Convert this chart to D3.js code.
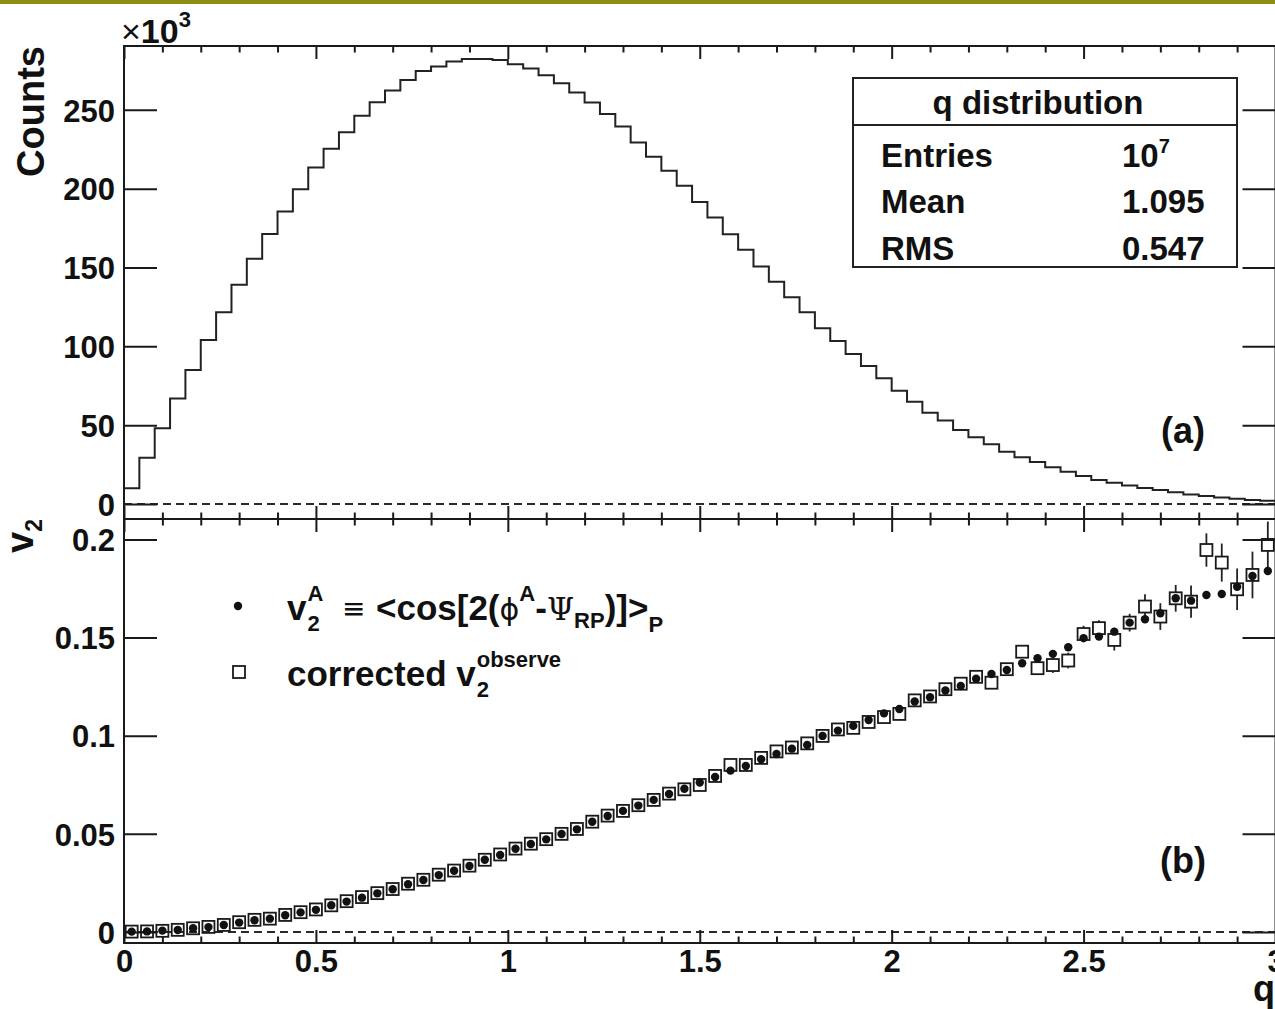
<!DOCTYPE html>
<html>
<head>
<meta charset="utf-8">
<script src="https://cdn.jsdelivr.net/npm/d3@7"></script>
<style>
  html, body { margin: 0; padding: 0; background: #fff; overflow: hidden; }
  svg { display: block; }
  text { font-family: "Liberation Sans", Arial, Helvetica, sans-serif; fill: #111; }
</style>
</head>
<body>
<svg id="chart" width="1275" height="1009"></svg>
<script>
// q bins: 75 bins of width 0.04 between 0 and 3
const qBinCenters = [
  0.02, 0.06, 0.10, 0.14, 0.18, 0.22, 0.26, 0.30, 0.34, 0.38,
  0.42, 0.46, 0.50, 0.54, 0.58, 0.62, 0.66, 0.70, 0.74, 0.78,
  0.82, 0.86, 0.90, 0.94, 0.98, 1.02, 1.06, 1.10, 1.14, 1.18,
  1.22, 1.26, 1.30, 1.34, 1.38, 1.42, 1.46, 1.50, 1.54, 1.58,
  1.62, 1.66, 1.70, 1.74, 1.78, 1.82, 1.86, 1.90, 1.94, 1.98,
  2.02, 2.06, 2.10, 2.14, 2.18, 2.22, 2.26, 2.30, 2.34, 2.38,
  2.42, 2.46, 2.50, 2.54, 2.58, 2.62, 2.66, 2.70, 2.74, 2.78,
  2.82, 2.86, 2.90, 2.94, 2.98
];
const binHalfWidth = 0.02;

// (a) q distribution, counts per bin in units of 10^3
const countsK = [
  10.0, 29.4, 48.0, 67.0, 85.0, 104.1, 121.6, 139.0, 155.5, 171.3,
  185.5, 199.7, 213.4, 225.3, 235.8, 246.2, 254.9, 262.3, 269.0, 274.7,
  277.5, 280.6, 282.3, 282.3, 281.6, 279.0, 276.2, 272.0, 266.9, 261.0,
  254.6, 247.3, 239.4, 229.3, 220.2, 211.3, 201.8, 191.6, 181.7, 171.1,
  161.2, 150.6, 141.0, 131.1, 121.6, 111.5, 103.4, 95.2, 87.6, 79.7,
  71.9, 64.9, 57.9, 52.9, 47.0, 42.3, 37.9, 33.2, 29.6, 26.6,
  23.3, 20.5, 17.8, 15.2, 13.5, 11.8, 10.1, 8.9, 7.4, 6.1,
  5.1, 4.2, 3.4, 2.5, 2.1
];

// (b) v2^A = <cos[2(phi^A - Psi_RP)]>_P
const v2A = [
  0.0002, 0.0003, 0.0007, 0.0010, 0.0019, 0.0025, 0.0036, 0.0048, 0.0060, 0.0068,
  0.0085, 0.0100, 0.0113, 0.0136, 0.0155, 0.0175, 0.0197, 0.0218, 0.0243, 0.0265,
  0.0290, 0.0312, 0.0336, 0.0368, 0.0392, 0.0424, 0.0448, 0.0472, 0.0499, 0.0523,
  0.0562, 0.0591, 0.0617, 0.0644, 0.0673, 0.0703, 0.0730, 0.0762, 0.0790, 0.0822,
  0.0846, 0.0880, 0.0907, 0.0934, 0.0953, 0.0999, 0.1026, 0.1050, 0.1080, 0.1114,
  0.1136, 0.1174, 0.1196, 0.1230, 0.1253, 0.1290, 0.1314, 0.1335, 0.1369, 0.1395,
  0.1417, 0.1451, 0.1497, 0.1505, 0.1530, 0.1576, 0.1593, 0.1624, 0.1700, 0.1688,
  0.1717, 0.1722, 0.1759, 0.1814, 0.1839
];

// (b) corrected v2^observe and its statistical error
const v2Corrected = [
  0.0002, 0.0003, 0.0006, 0.0011, 0.0019, 0.0026, 0.0036, 0.0050, 0.0062, 0.0068,
  0.0087, 0.0101, 0.0115, 0.0136, 0.0157, 0.0178, 0.0198, 0.0219, 0.0246, 0.0266,
  0.0292, 0.0313, 0.0338, 0.0368, 0.0395, 0.0425, 0.0450, 0.0473, 0.0500, 0.0525,
  0.0562, 0.0593, 0.0617, 0.0646, 0.0673, 0.0705, 0.0727, 0.0749, 0.0795, 0.0851,
  0.0851, 0.0887, 0.0920, 0.0940, 0.0961, 0.0999, 0.1032, 0.1040, 0.1070, 0.1095,
  0.1111, 0.1180, 0.1200, 0.1237, 0.1265, 0.1300, 0.1270, 0.1339, 0.1428, 0.1344,
  0.1360, 0.1383, 0.1518, 0.1548, 0.1488, 0.1576, 0.1658, 0.1607, 0.1700, 0.1683,
  0.1946, 0.1882, 0.1746, 0.1819, 0.1972
];
const v2CorrectedErr = [
  0.0001, 0.0001, 0.0001, 0.0001, 0.0001, 0.0001, 0.0001, 0.0001, 0.0001, 0.0001,
  0.0001, 0.0001, 0.0001, 0.0001, 0.0002, 0.0002, 0.0002, 0.0002, 0.0002, 0.0002,
  0.0002, 0.0002, 0.0003, 0.0003, 0.0003, 0.0003, 0.0003, 0.0003, 0.0004, 0.0004,
  0.0004, 0.0004, 0.0005, 0.0005, 0.0005, 0.0006, 0.0006, 0.0006, 0.0007, 0.0007,
  0.0008, 0.0008, 0.0009, 0.0009, 0.0010, 0.0011, 0.0011, 0.0012, 0.0013, 0.0014,
  0.0015, 0.0016, 0.0017, 0.0018, 0.0019, 0.0021, 0.0023, 0.0025, 0.0030, 0.0030,
  0.0040, 0.0040, 0.0042, 0.0040, 0.0054, 0.0045, 0.0063, 0.0068, 0.0068, 0.0082,
  0.0085, 0.0097, 0.0106, 0.0119, 0.0119
];

const countTicks = [0, 50, 100, 150, 200, 250];
const v2Ticks = [0, 0.05, 0.1, 0.15, 0.2];
const v2TickLabels = ["0", "0.05", "0.1", "0.15", "0.2"];
const qMajorTicks = [0, 0.5, 1, 1.5, 2, 2.5, 3];
const qMinorTicks = [0.1, 0.2, 0.3, 0.4, 0.6, 0.7, 0.8, 0.9, 1.1, 1.2, 1.3, 1.4,
                     1.6, 1.7, 1.8, 1.9, 2.1, 2.2, 2.3, 2.4, 2.6, 2.7, 2.8, 2.9];
const statsTitle = "q distribution";
const statsNames = ["Entries", "Mean", "RMS"];
const statsValues = ["10", "1.095", "0.547"];
const statsExponents = ["7", "", ""];

// ---------------------------------------------------------------
const svg = d3.select("#chart");
const INK = "#1a1a1a";
const FONT = '"Liberation Sans", Arial, Helvetica, sans-serif';

svg.append("rect").attr("width", 1275).attr("height", 1009).attr("fill", "#fff");
svg.append("rect").attr("x", 0).attr("y", 0).attr("width", 1275).attr("height", 4).attr("fill", "#8f8c12");

const xLeft = 124, xRight = 1275.5;
const topY0 = 46, midY = 519, botY1 = 943;

const x = d3.scaleLinear().domain([0, 3]).range([xLeft, xRight]);
const yCounts = d3.scaleLinear().domain([-9.5, 290.5]).range([midY, topY0]);
const yV2 = d3.scaleLinear().domain([-0.0056, 0.2104]).range([botY1, midY]);

// ---------- dashed zero lines ----------
function zeroLine(yPos) {
  svg.append("line")
    .attr("x1", xLeft).attr("x2", xRight).attr("y1", yPos).attr("y2", yPos)
    .attr("stroke", "#2a2a2a").attr("stroke-width", 1.8).attr("stroke-dasharray", "8,5");
}
zeroLine(yCounts(0));
zeroLine(yV2(0));

// ---------- (a) histogram outline ----------
const stepPts = [[0, 0]];
qBinCenters.forEach((c, i) => {
  stepPts.push([c - binHalfWidth, countsK[i]]);
  stepPts.push([c + binHalfWidth, countsK[i]]);
});
const stepLine = d3.line().x(d => x(d[0])).y(d => yCounts(d[1]));
svg.append("path").attr("d", stepLine(stepPts))
  .attr("fill", "none").attr("stroke", "#222").attr("stroke-width", 2);

// ---------- frames and ticks ----------
function panelAxes(yScale, yTickVals, yTop, yBottom) {
  const g = svg.append("g");
  // y ticks on both sides, pointing inward
  g.append("g").attr("transform", `translate(${xLeft},0)`)
    .call(d3.axisRight(yScale).tickValues(yTickVals).tickSize(33).tickFormat(""));
  g.append("g").attr("transform", `translate(${xRight},0)`)
    .call(d3.axisLeft(yScale).tickValues(yTickVals).tickSize(33).tickFormat(""));
  // x ticks on top edge (down) and bottom edge (up)
  [[yTop, d3.axisBottom], [yBottom, d3.axisTop]].forEach(([yy, ax]) => {
    g.append("g").attr("transform", `translate(0,${yy})`)
      .call(ax(x).tickValues(qMinorTicks).tickSize(6.5).tickFormat(""));
    g.append("g").attr("transform", `translate(0,${yy})`)
      .call(ax(x).tickValues(qMajorTicks).tickSize(13).tickFormat(""));
  });
  g.selectAll(".domain").remove();
  g.selectAll(".tick line").attr("stroke", INK).attr("stroke-width", 2);
  g.append("rect").attr("x", xLeft).attr("y", yTop)
    .attr("width", xRight - xLeft).attr("height", yBottom - yTop)
    .attr("fill", "none").attr("stroke", INK).attr("stroke-width", 2);
}
panelAxes(yCounts, countTicks, topY0, midY);
panelAxes(yV2, v2Ticks, midY, botY1);

// ---------- tick labels ----------
const labelStyle = sel => sel.style("font-family", FONT).style("font-weight", "bold")
  .style("font-size", "31px").attr("fill", "#111");

const yLabA = svg.append("g").attr("transform", `translate(${xLeft},0)`)
  .call(d3.axisLeft(yCounts).tickValues(countTicks).tickSize(0).tickPadding(9)
    .tickFormat(d3.format("d")));
const yLabB = svg.append("g").attr("transform", `translate(${xLeft},0)`)
  .call(d3.axisLeft(yV2).tickValues(v2Ticks).tickSize(0).tickPadding(9)
    .tickFormat((d, i) => v2TickLabels[i]));
const xLab = svg.append("g").attr("transform", `translate(0,${botY1})`)
  .call(d3.axisBottom(x).tickValues(qMajorTicks).tickSize(0).tickPadding(7)
    .tickFormat(d3.format("~g")));
[yLabA, yLabB, xLab].forEach(g => {
  g.select(".domain").remove();
  labelStyle(g.selectAll("text"));
});
yLabA.selectAll("text").attr("dy", "0.36em");
yLabB.selectAll("text").attr("dy", "0.36em");

// x10^3 multiplier
const mult = svg.append("text").attr("x", 121).attr("y", 43)
  .style("font-size", "34px");
mult.append("tspan").text("\u00d7").style("font-weight", "normal");
mult.append("tspan").text("10").style("font-weight", "bold");
mult.append("tspan").attr("y", 27).text("3").style("font-weight", "bold").style("font-size", "22px");

// axis titles
svg.append("text").attr("transform", "translate(44,46) rotate(-90)")
  .attr("text-anchor", "end").style("font-weight", "bold").style("font-size", "38px")
  .text("Counts");
const v2Title = svg.append("text").attr("transform", `translate(33,${midY}) rotate(-90)`)
  .attr("text-anchor", "end").style("font-weight", "bold").style("font-size", "38px");
v2Title.append("tspan").text("v");
v2Title.append("tspan").attr("dy", 9).style("font-size", "23px").text("2");
svg.append("text").attr("x", 1275).attr("y", 1001).attr("text-anchor", "end")
  .style("font-weight", "bold").style("font-size", "36px").text("q");

// panel tags
svg.append("text").attr("x", 1183).attr("y", 443).attr("text-anchor", "middle")
  .style("font-weight", "bold").style("font-size", "36px").text("(a)");
svg.append("text").attr("x", 1183).attr("y", 873).attr("text-anchor", "middle")
  .style("font-weight", "bold").style("font-size", "36px").text("(b)");

// ---------- statistics box ----------
const box = { x: 853, y: 78, w: 384, h: 189, split: 125 };
svg.append("rect").attr("x", box.x).attr("y", box.y).attr("width", box.w).attr("height", box.h)
  .attr("fill", "#fff").attr("stroke", "#222").attr("stroke-width", 2);
svg.append("line").attr("x1", box.x).attr("x2", box.x + box.w)
  .attr("y1", box.split).attr("y2", box.split).attr("stroke", "#222").attr("stroke-width", 2);
svg.append("text").attr("x", 1038).attr("y", 114).attr("text-anchor", "middle")
  .style("font-weight", "bold").style("font-size", "33px").text(statsTitle);
const rowBase = [167, 213, 260];
statsNames.forEach((name, i) => {
  svg.append("text").attr("x", 881).attr("y", rowBase[i])
    .style("font-weight", "bold").style("font-size", "33px").text(name);
  const t = svg.append("text").attr("x", 1122).attr("y", rowBase[i])
    .style("font-weight", "bold").style("font-size", "33px");
  t.append("tspan").text(statsValues[i]);
  if (statsExponents[i]) {
    t.append("tspan").attr("y", rowBase[i] - 14).style("font-size", "20px").text(statsExponents[i]);
  }
});

// ---------- (b) markers ----------
const sq = 12, hs = sq / 2;
const gB = svg.append("g");
// error bars of corrected v2 drawn outside the open squares
qBinCenters.forEach((q, i) => {
  const cx = x(q), cy = yV2(v2Corrected[i]);
  const up = yV2(v2Corrected[i] + v2CorrectedErr[i]);
  const dn = yV2(v2Corrected[i] - v2CorrectedErr[i]);
  if (cy - up > hs) {
    gB.append("line").attr("x1", cx).attr("x2", cx).attr("y1", up).attr("y2", cy - hs)
      .attr("stroke", "#222").attr("stroke-width", 1.8);
    gB.append("line").attr("x1", cx).attr("x2", cx).attr("y1", cy + hs).attr("y2", dn)
      .attr("stroke", "#222").attr("stroke-width", 1.8);
  }
});
gB.selectAll("rect.corr").data(qBinCenters).join("rect").attr("class", "corr")
  .attr("x", d => x(d) - hs).attr("y", (d, i) => yV2(v2Corrected[i]) - hs)
  .attr("width", sq).attr("height", sq)
  .attr("fill", "none").attr("stroke", "#1a1a1a").attr("stroke-width", 1.8);
gB.selectAll("circle.va").data(qBinCenters).join("circle").attr("class", "va")
  .attr("cx", d => x(d)).attr("cy", (d, i) => yV2(v2A[i])).attr("r", 4.2)
  .attr("fill", "#111");

// ---------- (b) legend ----------
svg.append("circle").attr("cx", 238).attr("cy", 606).attr("r", 4.2).attr("fill", "#111");
svg.append("rect").attr("x", 239 - hs).attr("y", 672 - hs).attr("width", sq).attr("height", sq)
  .attr("fill", "none").attr("stroke", "#1a1a1a").attr("stroke-width", 1.8);

const L1 = 620, L2 = 686, BIG = "35px", SMALL = "22px";
// line 1
const v1 = svg.append("text").attr("x", 287).attr("y", L1)
  .style("font-weight", "bold").style("font-size", BIG).text("v");
const v1w = v1.node().getComputedTextLength();
svg.append("text").attr("x", 287 + v1w + 1).attr("y", L1 - 19)
  .style("font-weight", "bold").style("font-size", SMALL).text("A");
svg.append("text").attr("x", 287 + v1w + 1).attr("y", L1 + 11)
  .style("font-weight", "bold").style("font-size", SMALL).text("2");
svg.append("text").attr("x", 342).attr("y", L1 - 2)
  .style("font-family", '"DejaVu Sans", sans-serif').style("font-size", "28px").text("\u2261");
const f1 = svg.append("text").attr("x", 376).attr("y", L1)
  .style("font-weight", "bold").style("font-size", BIG);
f1.append("tspan").text("<cos[2(");
f1.append("tspan").style("font-weight", "normal").style("font-family", '"DejaVu Sans", sans-serif')
  .style("font-size", "30px").text("\u03d5");
f1.append("tspan").attr("y", L1 - 19).style("font-size", SMALL).text("A");
f1.append("tspan").attr("y", L1).text("-");
f1.append("tspan").style("font-weight", "normal").style("font-family", '"DejaVu Serif", serif')
  .style("font-size", "31px").text("\u03a8");
f1.append("tspan").attr("y", L1 + 8).style("font-size", SMALL).text("RP");
f1.append("tspan").attr("y", L1).text(")]>");
f1.append("tspan").attr("y", L1 + 12).style("font-size", SMALL).text("P");
// line 2
const c2 = svg.append("text").attr("x", 287).attr("y", L2)
  .style("font-weight", "bold").style("font-size", BIG).text("corrected v");
const c2w = c2.node().getComputedTextLength();
svg.append("text").attr("x", 287 + c2w + 1).attr("y", L2 - 19)
  .style("font-weight", "bold").style("font-size", SMALL).text("observe");
svg.append("text").attr("x", 287 + c2w + 1).attr("y", L2 + 11)
  .style("font-weight", "bold").style("font-size", SMALL).text("2");
</script>
</body>
</html>
